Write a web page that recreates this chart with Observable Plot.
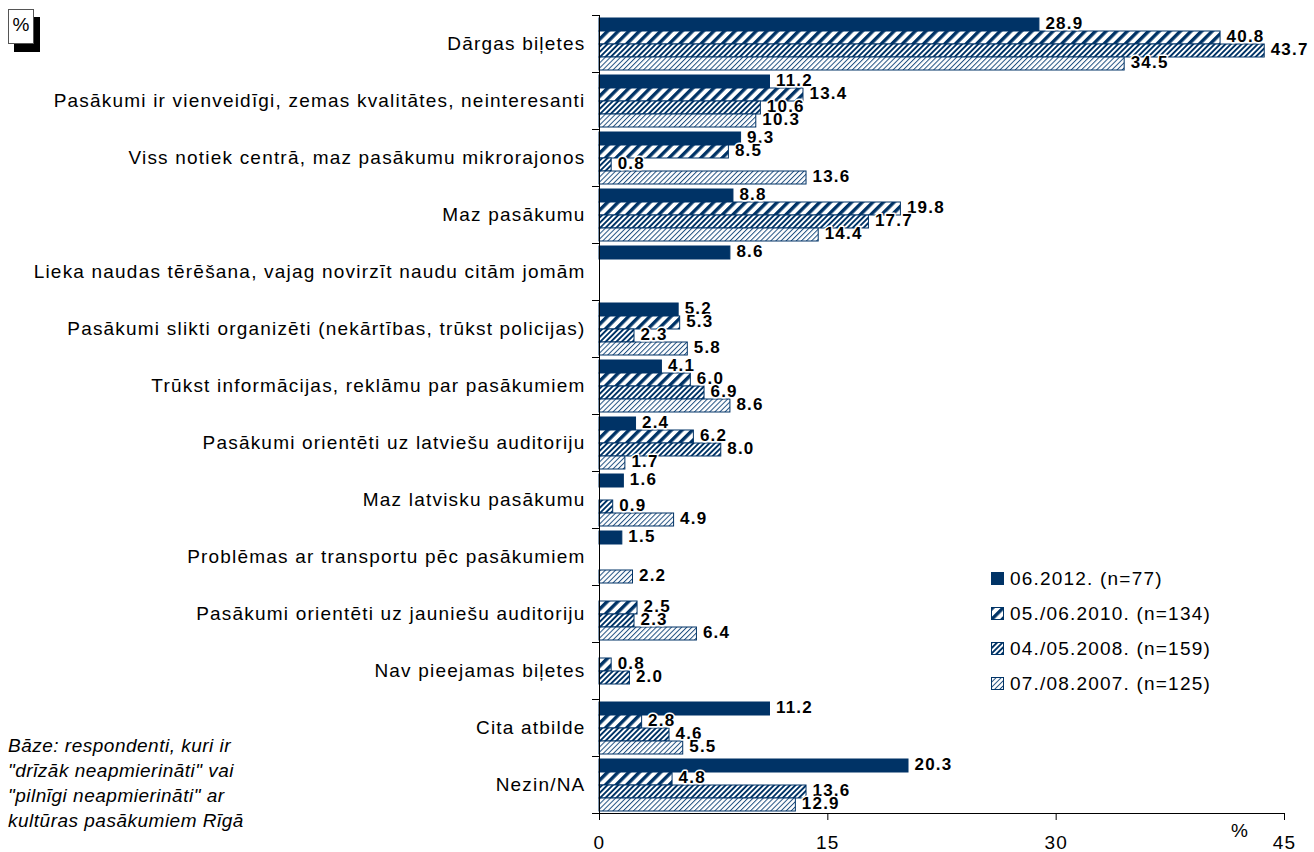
<!DOCTYPE html>
<html>
<head>
<meta charset="utf-8">
<script src="https://cdn.jsdelivr.net/npm/d3@7"></script>
<script src="https://cdn.jsdelivr.net/npm/@observablehq/plot@0.6"></script>
<style>
  html, body { margin: 0; padding: 0; background: #fff; }
  #wrap { position: relative; width: 1314px; height: 852px; font-family: "Liberation Sans", Arial, sans-serif; color: #000; }
  #wrap svg text { letter-spacing: 1.2px; }
  #wrap svg text.val { letter-spacing: 0.5px; }
  .pct-box { position: absolute; left: 8px; top: 9px; width: 24px; height: 33px; border: 1px solid #555; background: #fff;
             box-shadow: 6px 8px 0 #000; font-size: 19px; line-height: 30px; text-align: center; }
  .legend { position: absolute; left: 991px; top: 561px; font-size: 19px; letter-spacing: 1.2px; }
  .legend .row { display: flex; align-items: center; height: 35px; }
  .legend svg { margin-right: 5px; }
  .caption { position: absolute; left: 8px; top: 733px; font-size: 19px; font-style: italic; line-height: 25px; letter-spacing: 0.5px; }
  .xunit { position: absolute; left: 1231px; top: 820px; font-size: 19px; }
</style>
</head>
<body>
<svg width="0" height="0" style="position:absolute">
  <defs>
    <pattern id="p2010" patternUnits="userSpaceOnUse" width="7.5" height="7.5" patternTransform="rotate(45)">
      <rect width="7.5" height="7.5" fill="#fff"/>
      <rect width="3.4" height="7.5" fill="#003366"/>
    </pattern>
    <pattern id="p2008" patternUnits="userSpaceOnUse" width="3.8" height="3.8" patternTransform="rotate(45)">
      <rect width="3.8" height="3.8" fill="#fff"/>
      <rect width="1.9" height="3.8" fill="#003366"/>
    </pattern>
    <pattern id="p2007" patternUnits="userSpaceOnUse" width="3.6" height="3.6" patternTransform="rotate(45)">
      <rect width="3.6" height="3.6" fill="#fff"/>
      <rect width="1.0" height="3.6" fill="#1f4f80"/>
    </pattern>
  </defs>
</svg>
<div id="wrap">
  <div class="pct-box">%</div>
  <div class="xunit">%</div>
  <div class="caption">Bāze: respondenti, kuri ir<br>"drīzāk neapmierināti" vai<br>"pilnīgi neapmierināti" ar<br>kultūras pasākumiem Rīgā</div>
  <div class="legend" id="legend"></div>
</div>
<script>
const categories = [
  "Dārgas biļetes",
  "Pasākumi ir vienveidīgi, zemas kvalitātes, neinteresanti",
  "Viss notiek centrā, maz pasākumu mikrorajonos",
  "Maz pasākumu",
  "Lieka naudas tērēšana, vajag novirzīt naudu citām jomām",
  "Pasākumi slikti organizēti (nekārtības, trūkst policijas)",
  "Trūkst informācijas, reklāmu par pasākumiem",
  "Pasākumi orientēti uz latviešu auditoriju",
  "Maz latvisku pasākumu",
  "Problēmas ar transportu pēc pasākumiem",
  "Pasākumi orientēti uz jauniešu auditoriju",
  "Nav pieejamas biļetes",
  "Cita atbilde",
  "Nezin/NA"
];
const series = ["06.2012. (n=77)", "05./06.2010. (n=134)", "04./05.2008. (n=159)", "07./08.2007. (n=125)"];
const v2012 = [28.9, 11.2, 9.3, 8.8, 8.6, 5.2, 4.1, 2.4, 1.6, 1.5, null, null, 11.2, 20.3];
const v2010 = [40.8, 13.4, 8.5, 19.8, null, 5.3, 6.0, 6.2, null, null, 2.5, 0.8, 2.8, 4.8];
const v2008 = [43.7, 10.6, 0.8, 17.7, null, 2.3, 6.9, 8.0, 0.9, null, 2.3, 2.0, 4.6, 13.6];
const v2007 = [34.5, 10.3, 13.6, 14.4, null, 5.8, 8.6, 1.7, 4.9, 2.2, 6.4, null, 5.5, 12.9];
const xTicks = [0, 15, 30, 45];
const fills = ["#003366", "url(#p2010)", "url(#p2008)", "url(#p2007)"];

const seriesValues = [v2012, v2010, v2008, v2007];
const rows = [];
categories.forEach((c, i) => {
  seriesValues.forEach((arr, j) => {
    if (arr[i] != null) rows.push({category: c, series: series[j], value: arr[i]});
  });
});

const W = 1314, H = 852, ML = 599, MR = 30, MT = 15, MB = 39;

const chart = Plot.plot({
  width: W, height: H,
  marginLeft: ML, marginRight: MR, marginTop: MT, marginBottom: MB,
  style: {fontFamily: "'Liberation Sans', Arial, sans-serif", background: "transparent", overflow: "visible", color: "#000"},
  x: {domain: [0, 45], label: null},
  y: {domain: series, paddingInner: 0, paddingOuter: 0.1, axis: null},
  fy: {domain: categories, padding: 0, label: null},
  color: {domain: series, range: fills},
  marks: [
    Plot.barX(rows, {x: "value", y: "series", fy: "category", fill: "series", stroke: "#003366", strokeWidth: 1, inset: 0}),
    Plot.text(rows, {x: "value", y: "series", fy: "category", text: d => d.value.toFixed(1),
      textAnchor: "start", dx: 6, dy: -1, fontWeight: "bold", fontSize: 17, fill: "#000",
      stroke: "#fff", strokeWidth: 3, paintOrder: "stroke", className: "val"}),
    Plot.ruleX([0], {stroke: "#000"}),
    Plot.frame({anchor: "top", insetLeft: -7, insetRight: W - ML - MR, stroke: "#000"}),
    Plot.frame({anchor: "bottom", facetAnchor: "bottom", insetLeft: -7, stroke: "#000"}),
    Plot.axisX({ticks: xTicks, tickSize: 7, tickPadding: 15, fontSize: 19, label: null}),
    Plot.axisFy({anchor: "left", tickSize: 0, tickPadding: 14, fontSize: 19, label: null})
  ]
});
document.getElementById("wrap").prepend(chart);

const legend = document.getElementById("legend");
series.forEach((s, j) => {
  const row = document.createElement("div");
  row.className = "row";
  row.innerHTML = `<svg width="14" height="14"><rect x="0.5" y="0.5" width="12" height="12" fill="${fills[j]}" stroke="#003366" stroke-width="1"/></svg><span>${s}</span>`;
  legend.appendChild(row);
});
</script>
</body>
</html>
